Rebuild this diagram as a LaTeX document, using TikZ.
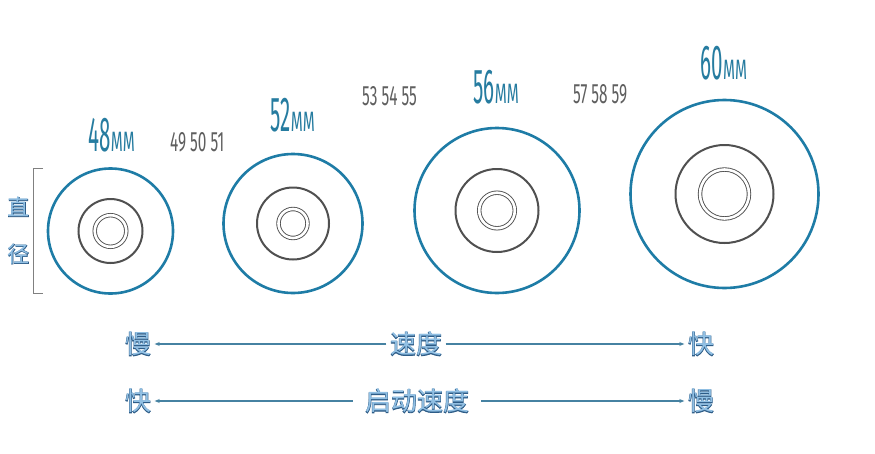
\documentclass[tikz,border=0pt]{standalone}
\usepackage{fontspec}
\usetikzlibrary{arrows.meta}
\newfontfamily\bignum[FakeStretch=0.42]{Fira Sans}
\newfontfamily\smallnum[FakeStretch=0.55]{Fira Sans}
\newfontfamily\cjk{Noto Sans CJK SC}
\newfontfamily\cjkbold[FakeBold=3]{Noto Sans CJK SC}
\definecolor{rimblue}{RGB}{30,124,166}
\definecolor{hubgray}{RGB}{80,80,80}
\definecolor{sizeblue}{RGB}{38,124,160}
\definecolor{numgray}{RGB}{95,95,95}
\definecolor{arrowblue}{RGB}{70,130,162}
\definecolor{cjkfill}{RGB}{145,192,228}
\definecolor{cjkedge}{RGB}{45,92,135}
\newcommand{\outlined}[1]{\rlap{\cjkbold\color{cjkedge}#1}{\cjk\color{cjkfill}#1}}

\begin{document}
\begin{tikzpicture}[x=1pt, y=-1pt, >={Stealth[length=5pt,width=4pt]},
    rim/.style={circle, draw=rimblue, line width=2.6pt, inner sep=0pt},
    hub/.style={circle, draw=hubgray, line width=2pt, inner sep=0pt},
    ring/.style={circle, draw=hubgray, line width=0.9pt, double=white, double distance=2.6pt, inner sep=0pt},
    size/.style={inner sep=0pt, text=sizeblue, font=\bignum\fontsize{49}{49}\selectfont},
    unit/.style={inner sep=0pt, text=sizeblue, font=\smallnum\fontsize{28}{28}\selectfont},
    steps/.style={inner sep=0pt, text=numgray, font=\smallnum\fontsize{28}{28}\selectfont},
    word/.style={inner sep=3.5pt, font=\fontsize{26}{26}\selectfont},
    side/.style={inner sep=0pt, font=\fontsize{22}{22}\selectfont},
    scale line/.style={->, draw=arrowblue, line width=1.3pt}]
        \useasboundingbox[fill=white] (0,0) rectangle (875,453);

        % wheels
        \foreach \d/\x/\y/\R/\H/\r in {48/110.5/231/62.5/32/15.8, 52/293/223.5/69.5/36/14.5, 56/497/210.5/82.5/41.5/17.8, 60/724.5/194/94/49/24.5} {
            \node[rim, minimum size=2*\R pt] (w\d) at (\x,\y) {};
            \node[hub, minimum size=2*\H pt] (w\d hub) at (w\d) {};
            \node[ring, minimum size=2*\r pt] (w\d ring) at (w\d) {};
        }

        % sizes
        \node[size, anchor=base west] (l48) at (88,151) {48};
        \node[unit, anchor=base west] at (l48.base east) {MM};
        \node[size, anchor=base west] (l52) at (270,131) {52};
        \node[unit, anchor=base west] at (l52.base east) {MM};
        \node[size, anchor=base west] (l56) at (473,103) {56};
        \node[unit, anchor=base west] at (l56.base east) {MM};
        \node[size, anchor=base west] (l60) at (700,79) {60};
        \node[unit, anchor=base west] at (l60.base east) {MM};

        \node[steps, anchor=base west] (s49) at (170,151) {49 50 51};
        \node[steps, anchor=base west] (s53) at (362,105) {53 54 55};
        \node[steps, anchor=base west] (s57) at (573,103) {57 58 59};

        % diameter
        \draw[draw=gray, line width=0.9pt] (43,168) -- (33.5,168) -- (33.5,293) -- (43,293);
        \node[side] (zhi) at (18.5,207) {\outlined{直}};
        \node[side] (jing) at (18.5,254) {\outlined{径}};

        % speed
        \node[word] (slow1) at (138,344) {\outlined{慢}};
        \node[word] (speed) at (416,344) {\outlined{速度}};
        \node[word] (fast1) at (701,344) {\outlined{快}};
        \draw[scale line] (speed) -- (slow1);
        \draw[scale line] (speed) -- (fast1);

        % start speed
        \node[word] (fast2) at (138,401) {\outlined{快}};
        \node[word, inner sep=12pt] (start) at (417,401) {\outlined{启动速度}};
        \node[word] (slow2) at (701,401) {\outlined{慢}};
        \draw[scale line] (start) -- (fast2);
        \draw[scale line] (start) -- (slow2);
    \end{tikzpicture}
\end{document}
